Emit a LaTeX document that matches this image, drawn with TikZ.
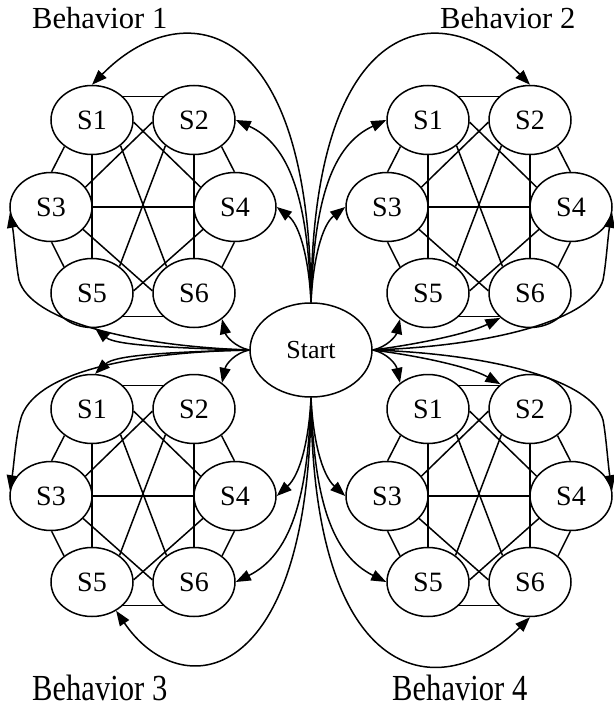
\documentclass[tikz,border=0pt]{standalone}
\usepackage{fontspec}
\setmainfont{Liberation Serif}
\usetikzlibrary{arrows.meta,shapes.geometric}

\tikzset{
  stnode/.style={draw, ellipse, line width=1.5pt, minimum width=82pt,
    minimum height=69pt, inner sep=0pt, font=\fontsize{28}{30}\selectfont},
  startnode/.style={draw, ellipse, line width=1.5pt, minimum width=122pt,
    minimum height=94pt, inner sep=0pt, font=\fontsize{26}{28}\selectfont},
  link/.style={line width=1.5pt},
  flow/.style={line width=1.5pt, -{Triangle[length=15pt,width=11pt]}},
  lbl/.style={inner sep=0pt, font=\fontsize{30.6}{32}\selectfont},
}

% One behaviour: six states S1..S6, all pairwise linked.
% #1 = name prefix, (#2,#3) = centre of S1
\newcommand\behaviourcluster[3]{%
  \node[stnode] (#1s1) at (#2,#3) {S1};
  \node[stnode] (#1s2) at (#2+102,#3) {S2};
  \node[stnode] (#1s3) at (#2-41,#3+87) {S3};
  \node[stnode] (#1s4) at (#2+143,#3+87) {S4};
  \node[stnode] (#1s5) at (#2,#3+173) {S5};
  \node[stnode] (#1s6) at (#2+102,#3+173) {S6};
  \draw[link] (#1s1.37) -- (#1s2.143);
  \draw[link] (#1s5.-37) -- (#1s6.-143);
  \draw[link] (#1s3.east) -- (#1s4.west);
  \draw[link] (#1s1.south) -- (#1s5.north);
  \draw[link] (#1s2.south) -- (#1s6.north);
  \draw[link] (#1s1.-136) -- (#1s3.89);
  \draw[link] (#1s2.-44) -- (#1s4.91);
  \draw[link] (#1s3.-89) -- (#1s5.137);
  \draw[link] (#1s4.-91) -- (#1s6.43);
  \draw[link] (#1s1.-3) -- (#1s4.150);
  \draw[link] (#1s2.183) -- (#1s3.30);
  \draw[link] (#1s3.-35) -- (#1s6.177);
  \draw[link] (#1s4.-145) -- (#1s5.3);
  \draw[link] (#1s1.-42) -- (#1s6.136);
  \draw[link] (#1s2.-138) -- (#1s5.44);
}

\begin{document}
\begin{tikzpicture}[x=1pt, y=-1pt]
  \useasboundingbox (0,0) rectangle (613,708);

  \node[startnode] (start) at (311,350) {Start};

  \behaviourcluster{a}{92}{120}
  \behaviourcluster{b}{428}{120}
  \behaviourcluster{c}{92}{409}
  \behaviourcluster{d}{428}{409}

  % Behavior 1
  \draw[flow] (start.north) .. controls (310,10) and (180,-5) .. (as1.north);
  \draw[flow] (start.north) .. controls (308,200) and (290,145) .. (as2.east);
  \draw[flow] (start.north) .. controls (309,260) and (300,225) .. (as4.east);
  \draw[flow] (start.west) .. controls (130,346) and (30,320) .. (19,280)
                           .. controls (16,265) and (14,235) .. (as3.188);
  \draw[flow] (start.west) .. controls (170,348) and (115,345) .. (as5.-85);
  \draw[flow] (start.west) .. controls (235,347) and (226,336) .. (as6.-43);

  % Behavior 2
  \draw[flow] (start.north) .. controls (312,10) and (442,-5) .. (bs2.north);
  \draw[flow] (start.north) .. controls (314,200) and (332,145) .. (bs1.west);
  \draw[flow] (start.north) .. controls (313,260) and (322,225) .. (bs3.west);
  \draw[flow] (start.east) .. controls (492,346) and (592,320) .. (603,280)
                           .. controls (606,265) and (608,235) .. (bs4.-8);
  \draw[flow] (start.east) .. controls (387,347) and (396,336) .. (bs5.-137);
  \draw[flow] (start.east) .. controls (420,344) and (470,333) .. (bs6.-140);

  % Behavior 3
  \draw[flow] (start.west) .. controls (170,352) and (115,355) .. (cs1.85);
  \draw[flow] (start.west) .. controls (140,352) and (40,370) .. (22,415)
                           .. controls (16,432) and (14,465) .. (cs3.172);
  \draw[flow] (start.west) .. controls (235,353) and (226,364) .. (cs2.43);
  \draw[flow] (start.south) .. controls (309,440) and (300,475) .. (cs4.east);
  \draw[flow] (start.south) .. controls (308,500) and (290,555) .. (cs6.east);
  \draw[flow] (start.south) .. controls (310,690) and (180,705) .. (cs5.-50);

  % Behavior 4
  \draw[flow] (start.east) .. controls (387,353) and (396,364) .. (ds1.137);
  \draw[flow] (start.east) .. controls (420,356) and (470,367) .. (ds2.140);
  \draw[flow] (start.east) .. controls (492,354) and (592,380) .. (603,420)
                           .. controls (606,435) and (608,465) .. (ds4.8);
  \draw[flow] (start.south) .. controls (313,440) and (322,475) .. (ds3.west);
  \draw[flow] (start.south) .. controls (314,500) and (332,555) .. (ds5.west);
  \draw[flow] (start.south) .. controls (312,690) and (442,705) .. (ds6.south);

  % Titles, trimmed at their baselines
  \begin{scope}
    \clip (0,0) rectangle (613,30);
    \node[lbl, anchor=base west] (t1) at (32,29) {Behavior 1};
    \node[lbl, anchor=base west] (t2) at (440,29) {Behavior 2};
  \end{scope}
  \begin{scope}
    \clip (0,640) rectangle (613,701);
    \node[lbl, anchor=base west] (t3) at (32,700) {\scalebox{1}[1.2]{Behavior 3}};
    \node[lbl, anchor=base west] (t4) at (392,700) {\scalebox{1}[1.2]{Behavior 4}};
  \end{scope}
\end{tikzpicture}
\end{document}
